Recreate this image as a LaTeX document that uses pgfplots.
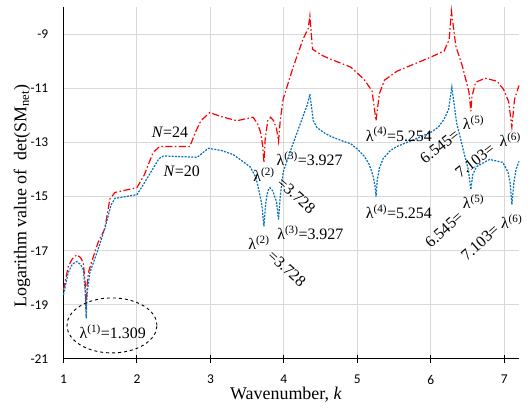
\documentclass[border=0pt]{standalone}
\usepackage{fontspec}
\setmainfont{Liberation Serif}
\newfontfamily\calibri{Carlito}
\usepackage{pgfplots}
\pgfplotsset{compat=1.18}
\definecolor{redN}{RGB}{255,0,0}
\definecolor{blueN}{RGB}{0,112,192}
\definecolor{gridc}{RGB}{217,217,217}
\newcommand\af{\fontsize{16}{18}\selectfont}
\begin{document}
\begin{tikzpicture}
\begin{axis}[
    scale only axis,
    width=455.5bp, height=352bp,
    xmin=1, xmax=7.2, ymin=-21, ymax=-8,
    xtick={1,2,...,7}, ytick={-21,-19,...,-9},
    axis x line=bottom, axis y line=left,
    axis line style={-, black, line width=1pt},
    grid=major,
    major grid style={gridc, line width=1pt},
    xtick style={black, line width=1pt},
    major tick length=8bp, tick align=center,
    ytick style={draw=none},
    /pgf/number format/assume math mode=true,
    ticklabel style={font=\calibri\fontsize{13.5}{15}\selectfont},
    yticklabel style={anchor=east, inner sep=0pt, xshift=-11bp},
    xticklabel style={anchor=north, inner sep=0pt, yshift=-12bp},
    xlabel={Wavenumber, \textit{k}},
    ylabel={Logarithm value of\ \ det(SM\textsubscript{net})},
    label style={font=\fontsize{18}{20}\selectfont},
    xlabel style={at={(axis description cs:0.4885,-0.1)}, anchor=center},
    ylabel style={at={(axis description cs:-0.0911,0.463)}, anchor=center},
    clip=false,
]
% N = 24
\addplot[redN, line width=1.2pt, dash pattern=on 7pt off 2.5pt on 1.5pt off 2.5pt] coordinates {
 (1.00,-18.45) (1.065,-17.58) (1.12,-17.3) (1.18,-17.15) (1.23,-17.25) (1.27,-17.44)
 (1.295,-18.2) (1.309,-19.2) (1.32,-18.3) (1.34,-17.8) (1.38,-17.44) (1.47,-16.7)
 (1.56,-16.2) (1.60,-15.6) (1.63,-15.1) (1.70,-14.85) (2.0,-14.67) (2.1,-14.2)
 (2.22,-13.37) (2.31,-13.15) (2.72,-13.15) (2.8,-12.6) (2.87,-12.2) (2.99,-11.9)
 (3.15,-12.05) (3.36,-12.2) (3.58,-12.07) (3.64,-12.3) (3.68,-12.6) (3.71,-13.1)
 (3.728,-13.74) (3.745,-12.9) (3.78,-12.2) (3.82,-12.07) (3.86,-12.2) (3.90,-12.5)
 (3.927,-12.96) (3.95,-12.2) (3.99,-11.4) (4.13,-10.19) (4.26,-9.19) (4.33,-8.8)
 (4.354,-8.33) (4.39,-9.56) (4.53,-9.8) (4.64,-9.93) (4.91,-10.22) (5.09,-10.67)
 (5.2,-11.1) (5.254,-12.2) (5.30,-11.2) (5.37,-10.7) (5.54,-10.37) (5.77,-10.11)
 (6.0,-9.85) (6.18,-9.63) (6.25,-9.2) (6.28,-8.14) (6.34,-9.44) (6.43,-10.19)
 (6.52,-11.15) (6.545,-11.85) (6.56,-11.3) (6.61,-10.78) (6.74,-10.63) (6.90,-10.74)
 (6.99,-11.04) (7.06,-11.5) (7.103,-12.44) (7.14,-11.4) (7.20,-10.9)
};
% N = 20
\addplot[blueN, line width=1.2pt, dash pattern=on 2pt off 1.3pt] coordinates {
 (1.00,-18.63) (1.065,-17.8) (1.12,-17.5) (1.18,-17.4) (1.23,-17.5) (1.27,-17.7)
 (1.295,-18.5) (1.309,-19.5) (1.32,-18.6) (1.36,-17.8) (1.47,-16.96) (1.56,-16.2)
 (1.60,-15.8) (1.65,-15.3) (1.70,-15.07) (2.0,-14.93) (2.1,-14.5) (2.3,-13.6)
 (2.36,-13.5) (2.82,-13.55) (2.97,-13.22) (3.15,-13.3) (3.31,-13.45) (3.54,-13.9)
 (3.62,-14.3) (3.67,-14.9) (3.70,-15.3) (3.728,-16.1) (3.75,-15.3) (3.78,-14.8)
 (3.81,-14.67) (3.85,-14.8) (3.90,-15.2) (3.927,-15.85) (3.95,-15.0) (3.99,-14.1)
 (4.13,-13.0) (4.26,-12.04) (4.32,-11.6) (4.354,-11.22) (4.40,-12.2) (4.45,-12.45)
 (4.55,-12.65) (4.64,-12.78) (4.8,-12.95) (4.91,-13.05) (5.0,-13.25) (5.09,-13.5)
 (5.16,-13.8) (5.21,-14.2) (5.24,-14.6) (5.254,-15.0) (5.27,-14.4) (5.3,-13.95)
 (5.35,-13.6) (5.45,-13.3) (5.54,-13.15) (5.77,-12.9) (6.0,-12.63) (6.10,-12.44)
 (6.18,-12.15) (6.24,-11.8) (6.286,-10.96) (6.35,-12.26) (6.44,-13.26) (6.51,-14.0)
 (6.545,-14.74) (6.57,-14.2) (6.62,-13.9) (6.80,-13.63) (6.98,-13.74) (7.05,-14.1)
 (7.08,-14.5) (7.103,-15.3) (7.13,-14.5) (7.16,-14.0) (7.20,-13.7)
};
\node[font=\af] at (axis cs:2.45,-12.63) {\textit{N}=24};
\node[font=\af] at (axis cs:2.61,-14.07) {\textit{N}=20};
\draw[black, dashed, line width=0.9pt] (axis cs:1.66,-19.76) ellipse [x radius=45bp, y radius=27.5bp];
\node[font=\af] at (axis cs:1.67,-20.0) {λ\textsuperscript{(1)}=1.309};
% upper labels
\node[font=\af] at (axis cs:3.73,-14.19) {λ\textsuperscript{(2)}};
\node[font=\af, rotate=-42] at (axis cs:4.17,-14.97) {=3.728};
\node[font=\af] at (axis cs:4.35,-13.6) {λ\textsuperscript{(3)}=3.927};
\node[font=\af] at (axis cs:5.565,-12.7) {λ\textsuperscript{(4)}=5.254};
\node[font=\af, rotate=38] at (axis cs:6.12,-13.15) {6.545=};
\node[font=\af] at (axis cs:6.58,-12.26) {λ\textsuperscript{(5)}};
\node[font=\af, rotate=38] at (axis cs:6.6,-13.67) {7.103=};
\node[font=\af] at (axis cs:7.08,-12.9) {λ\textsuperscript{(6)}};
% lower labels
\node[font=\af] at (axis cs:3.66,-16.7) {λ\textsuperscript{(2)}};
\node[font=\af, rotate=-42] at (axis cs:4.04,-17.66) {=3.728};
\node[font=\af] at (axis cs:4.36,-16.33) {λ\textsuperscript{(3)}=3.927};
\node[font=\af] at (axis cs:5.565,-15.56) {λ\textsuperscript{(4)}=5.254};
\node[font=\af, rotate=42] at (axis cs:6.18,-16.22) {6.545=};
\node[font=\af] at (axis cs:6.58,-15.2) {λ\textsuperscript{(5)}};
\node[font=\af, rotate=42] at (axis cs:6.67,-16.7) {7.103=};
\node[font=\af] at (axis cs:7.1,-15.93) {λ\textsuperscript{(6)}};
\coordinate (BL) at (rel axis cs:-0.1394,-0.142);
\coordinate (TR) at (rel axis cs:1.0198,1.0199);
\end{axis}
\path (BL) rectangle (TR);
\end{tikzpicture}
\end{document}
